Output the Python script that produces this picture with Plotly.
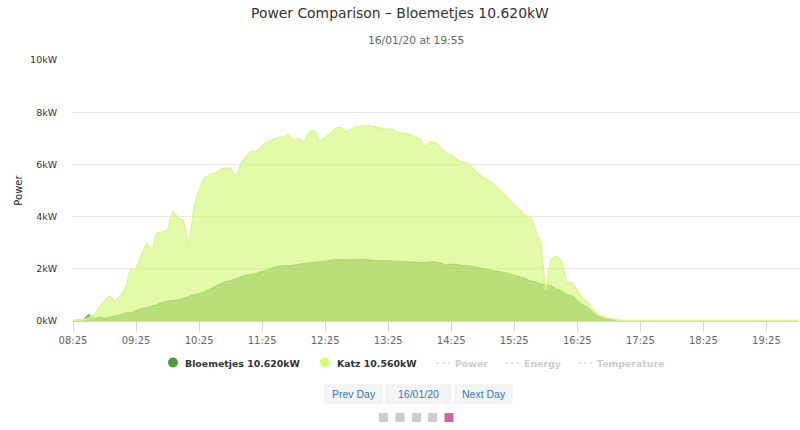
import pandas as pd
import plotly.graph_objects as go

times = pd.date_range("2020-01-16 08:25", "2020-01-16 19:55", freq="5min")
tick_labels = ["08:25", "09:25", "10:25", "11:25", "12:25", "13:25", "14:25", "15:25", "16:25", "17:25", "18:25", "19:25"]
y_ticks = [0, 2, 4, 6, 8, 10]
y_labels = ["0kW", "2kW", "4kW", "6kW", "8kW", "10kW"]

bloemetjes = [
    .02, .03, .05, .25, .08, .15, .11, .15, .19, .24, .31, .31,
    .4, .49, .5, .58, .62, .72, .77, .79, .8, .88, .94, 1.0,
    1.05, 1.12, 1.22, 1.32, 1.42, 1.5, 1.55, 1.63, 1.69, 1.76, 1.78, 1.83,
    1.9, 1.95, 2.04, 2.09, 2.12, 2.13, 2.14, 2.18, 2.2, 2.23, 2.24, 2.27,
    2.29, 2.33, 2.35, 2.35, 2.35, 2.34, 2.36, 2.36, 2.35, 2.33, 2.32, 2.31,
    2.31, 2.29, 2.29, 2.28, 2.27, 2.26, 2.24, 2.24, 2.26, 2.27, 2.22, 2.14,
    2.18, 2.17, 2.14, 2.12, 2.09, 2.05, 2.01, 1.97, 1.94, 1.9, 1.86, 1.82,
    1.74, 1.7, 1.64, 1.54, 1.51, 1.42, 1.38, 1.35, 1.22, 1.17, 1.01, .97,
    .78, .62, .53, .33, .17, .1, .06, .04, .02, .02, .02, .02,
    .02, .02, .02, .02, .02, .02, .02, .02, .02, .02, .02, .02,
    .02, .02, .02, .02, .02, .02, .02, .02, .02, .02, .02, .02,
    .02, .02, .02, .02, .02, .02, .02,
]
katz = [
    .02, .04, .05, .1, .25, .5, .75, .95, .77, .95, 1.25, 1.98,
    2.02, 2.5, 2.97, 2.7, 3.35, 3.4, 3.5, 4.2, 3.95, 3.85, 2.85, 4.3,
    5.0, 5.45, 5.6, 5.65, 5.8, 5.85, 5.85, 5.55, 6.05, 6.3, 6.5, 6.5,
    6.7, 6.85, 6.94, 7.03, 7.05, 7.14, 6.88, 6.99, 6.86, 7.24, 7.29, 6.88,
    7.03, 7.19, 7.38, 7.41, 7.24, 7.35, 7.45, 7.46, 7.49, 7.46, 7.41, 7.37,
    7.35, 7.33, 7.2, 7.19, 7.15, 7.06, 6.96, 6.69, 6.87, 6.82, 6.64, 6.42,
    6.36, 6.19, 6.09, 6.05, 5.87, 5.68, 5.49, 5.41, 5.24, 5.06, 4.88, 4.65,
    4.42, 4.27, 4.04, 4.01, 3.5, 3.0, 1.2, 2.35, 2.49, 2.28, 1.47, 1.45,
    1.17, .87, .7, .45, .23, .19, .12, .06, .03, .02, .02, .02,
    .02, .02, .02, .02, .02, .02, .02, .02, .02, .02, .02, .02,
    .02, .02, .02, .02, .02, .02, .02, .02, .02, .02, .02, .02,
    .02, .02, .02, .02, .02, .02, .02,
]

FONT = "DejaVu Sans"
L, R, T, B = 73, 799, 60, 321


# page pixels to paper coords, the footer sits outside the plot area
def px(x):
    return (x - L) / (R - L)


def py(y):
    return (B - y) / (B - T)


def label(text, x, y, size=10, color="#333333", anchor="left", family=FONT):
    return dict(text=text, xref="paper", yref="paper", x=px(x), y=py(y), xanchor=anchor, yanchor="middle",
                showarrow=False, font=dict(family=family, size=size, color=color))


def box(x0, y0, x1, y1, fill, line=None, kind="rect"):
    return dict(type=kind, xref="paper", yref="paper", x0=px(x0), x1=px(x1), y0=py(y0), y1=py(y1),
                fillcolor=fill, line=dict(color=line or fill, width=1 if line else 0), layer="above")


def dots(x0, x1, y):
    return dict(type="line", xref="paper", yref="paper", x0=px(x0), x1=px(x1), y0=py(y), y1=py(y),
                line=dict(color="#cccccc", width=1, dash="dot"))


fig = go.Figure()
fig.add_trace(go.Scatter(x=times, y=bloemetjes, mode="lines", name="Bloemetjes 10.620kW", fill="tozeroy",
                         line=dict(color="rgba(75,155,59,0.75)", width=1, shape="spline", smoothing=0.5),
                         fillcolor="rgba(75,140,59,0.6)"))
fig.add_trace(go.Scatter(x=times, y=katz, mode="lines", name="Katz 10.560kW", fill="tozeroy",
                         line=dict(color="#d8f88e", width=1.5, shape="spline", smoothing=0.5),
                         fillcolor="rgba(208,248,110,0.6)"))

annotations = [
    label("Power Comparison \u2013 Bloemetjes 10.620kW", 400, 13, size=13.9, color="#333333", anchor="center"),
    label("16/01/20 at 19:55", 416, 40, size=10.7, color="#666666", anchor="center"),
    label("<b>Bloemetjes 10.620kW</b>", 183, 363, size=9.4),
    label("<b>Katz 10.560kW</b>", 335, 363, size=9.4),
    label("<b>Power</b>", 453, 363, size=9.4, color="#cccccc"),
    label("<b>Energy</b>", 522, 363, size=9.4, color="#cccccc"),
    label("<b>Temperature</b>", 595, 363, size=9.4, color="#cccccc"),
    label("Prev Day", 353.5, 394, size=10.5, color="#337ab7", anchor="center", family="Liberation Sans"),
    label("16/01/20", 418, 394, size=10.5, color="#337ab7", anchor="center", family="Liberation Sans"),
    label("Next Day", 483.5, 394, size=10.5, color="#337ab7", anchor="center", family="Liberation Sans"),
]

shapes = [
    box(168, 357.5, 178, 367.5, "#4c9a3b", kind="circle"),
    box(320, 357.5, 330, 367.5, "#d0ff70", kind="circle"),
    dots(436, 450, 363),
    dots(505, 519, 363),
    dots(578, 592, 363),
    box(325, 385, 382, 403, "#f5f5f5", "#eeeeee"),
    box(386, 385, 450.5, 403, "#f5f5f5", "#eeeeee"),
    box(455, 385, 512, 403, "#f5f5f5", "#eeeeee"),
]
for sq_x, sq_color in zip([379, 395.5, 412, 428, 444.5], ["#cccccc"] * 4 + ["#d462a8"]):
    shapes.append(box(sq_x, 413, sq_x + 9, 422, sq_color))

fig.update_layout(
    width=800, height=430,
    margin=dict(l=L, r=800 - R, t=T, b=430 - B),
    paper_bgcolor="white", plot_bgcolor="white",
    showlegend=False,
    annotations=annotations,
    shapes=shapes,
    font=dict(family=FONT, size=10, color="#333333"),
)
fig.update_xaxes(
    range=[times[0], times[-1] + pd.Timedelta(minutes=1)],
    tickvals=[f"2020-01-16 {t}" for t in tick_labels], ticktext=tick_labels,
    ticks="outside", ticklen=10, tickcolor="#ccd6eb", tickwidth=1,
    showgrid=False, showline=True, linecolor="#ccd6eb", linewidth=1,
    tickfont=dict(family=FONT, size=10, color="#666666"), tickangle=0,
)
fig.update_yaxes(
    range=[0, 10], tickvals=y_ticks, ticktext=y_labels,
    ticks="outside", ticklen=13, tickcolor="rgba(0,0,0,0)",
    showgrid=True, gridcolor="#e6e6e6", gridwidth=1, zeroline=False,
    tickfont=dict(family=FONT, size=9.5, color="#333333"),
    title=dict(text="Power", standoff=5, font=dict(family=FONT, size=10, color="#222222")),
)

fig.write_html("out.html", config=dict(displayModeBar=False),
               post_script="document.body.style.margin='0';document.documentElement.style.overflow='hidden';")
